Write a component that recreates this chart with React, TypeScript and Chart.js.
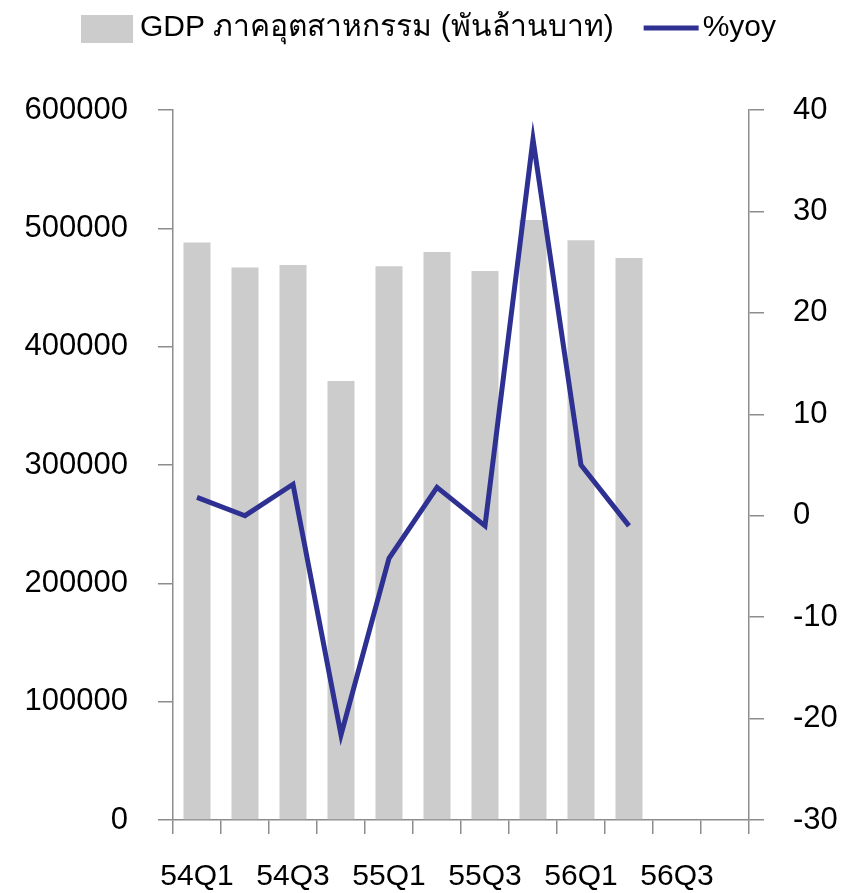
import { useEffect, useRef } from 'react';
import { Chart, registerables } from 'chart.js';

Chart.register(...registerables);

const categories = ['54Q1', '54Q2', '54Q3', '54Q4', '55Q1', '55Q2', '55Q3', '55Q4', '56Q1', '56Q2', '56Q3', '56Q4'];
const gdpValues: (number | null)[] = [488000, 467000, 469000, 371000, 468000, 480000, 464000, 507000, 490000, 475000, null, null];
const yoyValues: (number | null)[] = [1.8, 0.0, 3.1, -21.6, -4.2, 2.8, -1.0, 37.1, 5.0, -1.0, null, null];
const leftAxis = { min: 0, max: 600000, step: 100000 };
const rightAxis = { min: -30, max: 40, step: 10 };
const gdpLabel = 'GDP ภาคอุตสาหกรรม (พันล้านบาท)';
const yoyLabel = '%yoy';

const FONT = '"Liberation Sans", Arial, sans-serif';
const BAR_COLOR = '#CCCCCC';
const LINE_COLOR = '#2E3192';
const AXIS_COLOR = '#8C8C8C';

const legendPlugin = {
  id: 'customLegend',
  afterDraw(chart: any) {
    const ctx = chart.ctx as CanvasRenderingContext2D;
    ctx.save();
    ctx.font = `30px ${FONT}`;
    const w1 = ctx.measureText(gdpLabel).width;
    const w2 = ctx.measureText(yoyLabel).width;
    const boxW = 52, boxH = 28, gap = 7, itemGap = 30, lineW = 55, lineGap = 4;
    const total = boxW + gap + w1 + itemGap + lineW + lineGap + w2;
    let x = (chart.width - total) / 2 + 2;
    const baseline = 36;
    ctx.fillStyle = BAR_COLOR;
    ctx.fillRect(x, 15, boxW, boxH);
    x += boxW + gap;
    ctx.fillStyle = '#000';
    ctx.textBaseline = 'alphabetic';
    ctx.textAlign = 'left';
    ctx.fillText(gdpLabel, x, baseline);
    x += w1 + itemGap;
    ctx.strokeStyle = LINE_COLOR;
    ctx.lineWidth = 5;
    ctx.beginPath();
    ctx.moveTo(x, 28);
    ctx.lineTo(x + lineW, 28);
    ctx.stroke();
    x += lineW + lineGap;
    ctx.fillText(yoyLabel, x, baseline);
    ctx.restore();
  },
};

export default function App() {
  const ref = useRef<HTMLCanvasElement | null>(null);
  useEffect(() => {
    document.body.style.margin = '0';
    const canvas = ref.current;
    if (!canvas) return;
    const chart = new Chart(canvas, {
      type: 'bar',
      data: {
        labels: categories,
        datasets: [
          {
            type: 'line',
            label: yoyLabel,
            data: yoyValues,
            yAxisID: 'y1',
            borderColor: LINE_COLOR,
            backgroundColor: LINE_COLOR,
            borderWidth: 5,
            pointRadius: 0,
            tension: 0,
            order: 0,
          } as any,
          {
            type: 'bar',
            label: gdpLabel,
            data: gdpValues,
            yAxisID: 'y',
            backgroundColor: BAR_COLOR,
            categoryPercentage: 1,
            barPercentage: 0.5625,
            order: 1,
          },
        ],
      },
      options: {
        responsive: false,
        animation: false,
        layout: { padding: { top: 110, left: 0, right: 0, bottom: 0 } },
        plugins: {
          legend: { display: false },
          tooltip: { enabled: false },
        },
        scales: {
          x: {
            offset: true,
            grid: {
              offset: true,
              drawOnChartArea: false,
              drawTicks: true,
              tickLength: 14,
              color: AXIS_COLOR,
              lineWidth: 1.5,
            },
            border: { display: true, color: AXIS_COLOR, width: 1.5 },
            ticks: {
              autoSkip: false,
              maxRotation: 0,
              padding: 25,
              color: '#000',
              font: { family: FONT, size: 30 },
              callback: (_v: any, i: number) => (i % 2 === 0 ? categories[i] : ''),
            },
            afterFit: (s: any) => { s.height = 73; },
          },
          y: {
            position: 'left',
            min: leftAxis.min,
            max: leftAxis.max,
            grid: {
              drawOnChartArea: false,
              drawTicks: true,
              tickLength: 15,
              color: AXIS_COLOR,
              lineWidth: 1.5,
            },
            border: { display: true, color: AXIS_COLOR, width: 1.5 },
            ticks: {
              stepSize: leftAxis.step,
              padding: 30,
              color: '#000',
              font: { family: FONT, size: 31 },
              callback: (v: any) => String(v),
            },
            afterFit: (s: any) => { s.width = 173; },
          },
          y1: {
            position: 'right',
            min: rightAxis.min,
            max: rightAxis.max,
            grid: {
              drawOnChartArea: false,
              drawTicks: true,
              tickLength: 15,
              color: AXIS_COLOR,
              lineWidth: 1.5,
            },
            border: { display: true, color: AXIS_COLOR, width: 1.5 },
            ticks: {
              stepSize: rightAxis.step,
              padding: 29,
              color: '#000',
              font: { family: FONT, size: 31 },
              callback: (v: any) => String(v),
            },
            afterFit: (s: any) => { s.width = 104; },
          },
        },
      },
      plugins: [legendPlugin],
    });
    return () => chart.destroy();
  }, []);
  return <canvas ref={ref} width={853} height={893} style={{ display: 'block' }} />;
}
